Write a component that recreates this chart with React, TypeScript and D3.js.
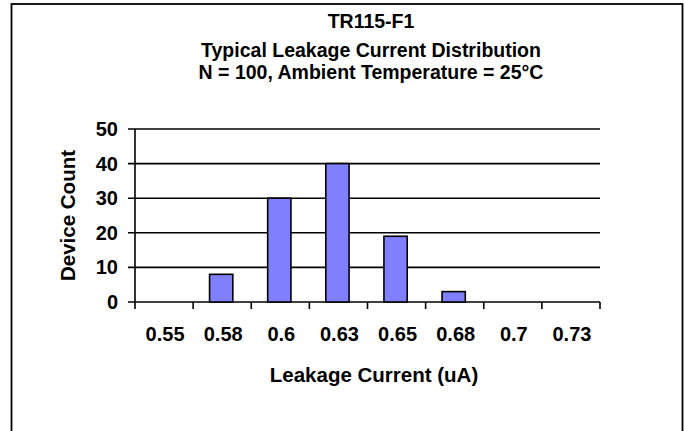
import React, { useRef, useEffect } from "react";
import * as d3 from "d3";

const categories = ["0.55", "0.58", "0.6", "0.63", "0.65", "0.68", "0.7", "0.73"];
const counts = [0, 8, 30, 40, 19, 3, 0, 0];
const yTicks = [0, 10, 20, 30, 40, 50];

const titleLines = [
  "TR115-F1",
  "Typical Leakage Current Distribution",
  "N = 100, Ambient Temperature = 25°C",
];

const width = 685;
const height = 431;
const margin = { top: 129, bottom: 129, left: 135, right: 85 };
const font = "Arial, 'Liberation Sans', sans-serif";

const App = () => {
  const svgRef = useRef<SVGSVGElement>(null);

  useEffect(() => {
    if (!svgRef.current) return;
    const svg = d3.select(svgRef.current);
    svg.selectAll("*").remove();

    const plotWidth = width - margin.left - margin.right;
    const plotHeight = height - margin.top - margin.bottom;

    const x = d3.scaleBand(categories, [0, plotWidth]);
    const y = d3.scaleLinear([0, 50], [plotHeight, 0]);
    const barW = x.bandwidth() / 2.5;

    const rows = categories.map((c, i) => ({ cat: c, value: counts[i] }));

    // outer frame
    svg
      .append("rect")
      .attr("x", 11.5)
      .attr("y", 4)
      .attr("width", 671)
      .attr("height", 440)
      .attr("fill", "white")
      .attr("stroke", "black")
      .attr("stroke-width", 1.8);

    // titles
    const titleY = [28, 57, 79];
    svg
      .append("g")
      .selectAll("text")
      .data(titleLines)
      .join("text")
      .attr("x", 371)
      .attr("y", (d, i) => titleY[i])
      .attr("text-anchor", "middle")
      .attr("font-family", font)
      .attr("font-weight", "bold")
      .attr("font-size", 19.5)
      .text((d) => d);

    const plot = svg
      .append("g")
      .attr("transform", `translate(${margin.left}, ${margin.top})`);

    // gridlines + y ticks
    plot
      .append("g")
      .selectAll("line")
      .data(yTicks)
      .join("line")
      .attr("x1", -7)
      .attr("x2", plotWidth)
      .attr("y1", (d) => y(d))
      .attr("y2", (d) => y(d))
      .attr("stroke", "black")
      .attr("stroke-width", 1.6);

    // bars
    plot
      .append("g")
      .selectAll("rect")
      .data(rows.filter((r) => r.value > 0))
      .join("rect")
      .attr("x", (d) => x(d.cat)! + (x.bandwidth() - barW) / 2 - 1)
      .attr("y", (d) => y(d.value))
      .attr("width", barW)
      .attr("height", (d) => plotHeight - y(d.value))
      .attr("fill", "#8080ff")
      .attr("stroke", "black")
      .attr("stroke-width", 1.6);

    // y axis line
    plot
      .append("line")
      .attr("x1", 0)
      .attr("x2", 0)
      .attr("y1", 0)
      .attr("y2", plotHeight)
      .attr("stroke", "black")
      .attr("stroke-width", 1.6);

    // x ticks at band edges
    const edges = categories.map((c) => x(c)!).concat([plotWidth]);
    plot
      .append("g")
      .selectAll("line")
      .data(edges)
      .join("line")
      .attr("x1", (d) => d)
      .attr("x2", (d) => d)
      .attr("y1", plotHeight)
      .attr("y2", plotHeight + 7)
      .attr("stroke", "black")
      .attr("stroke-width", 1.6);

    // y tick labels
    plot
      .append("g")
      .selectAll("text")
      .data(yTicks)
      .join("text")
      .attr("x", -17)
      .attr("y", (d) => y(d) + 7)
      .attr("text-anchor", "end")
      .attr("font-family", font)
      .attr("font-weight", "bold")
      .attr("font-size", 20)
      .text((d) => d);

    // x tick labels
    plot
      .append("g")
      .selectAll("text")
      .data(categories)
      .join("text")
      .attr("x", (d) => x(d)! + x.bandwidth() / 2 + 1)
      .attr("y", plotHeight + 39)
      .attr("text-anchor", "middle")
      .attr("font-family", font)
      .attr("font-weight", "bold")
      .attr("font-size", 20)
      .text((d) => d);

    // axis titles
    svg
      .append("text")
      .attr("x", 374)
      .attr("y", 382)
      .attr("text-anchor", "middle")
      .attr("font-family", font)
      .attr("font-weight", "bold")
      .attr("font-size", 20.5)
      .text("Leakage Current (uA)");

    svg
      .append("text")
      .attr("transform", `translate(75, ${margin.top + plotHeight / 2}) rotate(-90)`)
      .attr("text-anchor", "middle")
      .attr("font-family", font)
      .attr("font-weight", "bold")
      .attr("font-size", 20.5)
      .text("Device Count");
  }, []);

  return (
    <svg
      width={width}
      height={height}
      ref={svgRef}
      style={{ position: "absolute", left: 0, top: 0 }}
    />
  );
};

export default App;
